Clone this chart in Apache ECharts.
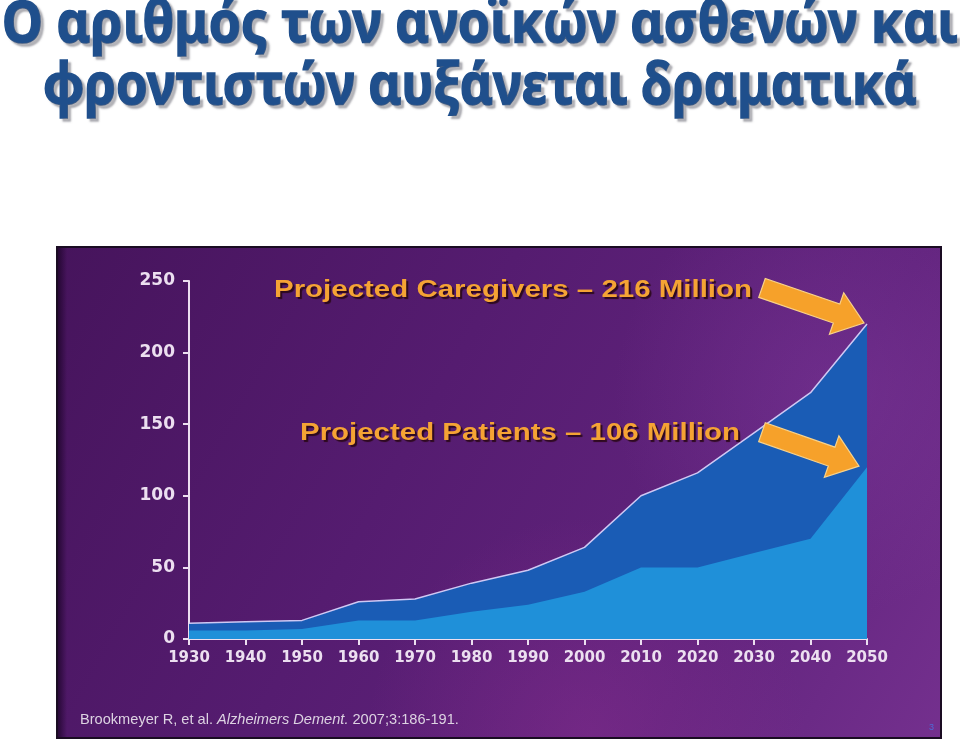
<!DOCTYPE html>
<html>
<head>
<meta charset="utf-8">
<script src="https://cdn.jsdelivr.net/npm/echarts@6/dist/echarts.min.js"></script>
<style>
html,body{margin:0;padding:0;background:#fff;}
#c{width:960px;height:743px;}
</style>
</head>
<body>
<div id="c"></div>
<script>
// ---- data ----
const years = [1930, 1940, 1950, 1960, 1970, 1980, 1990, 2000, 2010, 2020, 2030, 2040, 2050];
const caregiversTotal = [11, 12, 13, 26, 28, 39, 48, 64, 100, 116, 144, 172, 220];
const patients = [6, 6, 7, 13, 13, 19, 24, 33, 50, 50, 60, 70, 120];
const yTicks = [0, 50, 100, 150, 200, 250];
const titleLines = ['Ο αριθμός των ανοϊκών ασθενών και', 'φροντιστών αυξάνεται δραματικά'];
const labelCaregivers = 'Projected Caregivers – 216 Million';
const labelPatients = 'Projected Patients – 106 Million';

const chart = echarts.init(document.getElementById('c'));

const measureCtx = document.createElement('canvas').getContext('2d');
function textWidth(str, font) { measureCtx.font = font; return measureCtx.measureText(str).width; }

const titleFont = 'bold 57px "Noto Sans"';
const titleScale1 = 956 / textWidth(titleLines[0], titleFont);
const titleScale2 = 874 / textWidth(titleLines[1], titleFont);
const annFont = 'bold 24px "Liberation Sans"';
const annScale1 = 478 / textWidth(labelCaregivers, annFont);
const annScale2 = 440 / textWidth(labelPatients, annFont);

function titleText(str, y, s) {
  return {
    type: 'text', x: 480, y: y, scaleX: s, z: 100,
    style: {
      text: str, x: 0, y: 0, align: 'center', verticalAlign: 'middle',
      font: titleFont, fill: '#1f4f8c', stroke: '#1f4f8c', lineWidth: 1.6,
      textShadowColor: 'rgba(110,110,120,0.5)', textShadowOffsetX: 3, textShadowOffsetY: 3, textShadowBlur: 2
    }
  };
}
function annText(str, x, y, s) {
  return {
    type: 'text', x: x, y: y, scaleX: s, z: 50,
    style: {
      text: str, x: 0, y: 0, align: 'left', verticalAlign: 'middle',
      font: annFont, fill: '#f5a334',
      textShadowColor: 'rgba(40,5,20,0.9)', textShadowOffsetX: 2, textShadowOffsetY: 2, textShadowBlur: 1
    }
  };
}

const baseGraphics = [
  { type: 'rect', z: -10, shape: { x: 57, y: 247, width: 884, height: 491 },
    style: { fill: new echarts.graphic.LinearGradient(0, 0, 1, 1, [
      { offset: 0, color: '#46145c' }, { offset: 0.4, color: '#551c70' },
      { offset: 0.75, color: '#62247e' }, { offset: 1, color: '#74308e' }]), stroke: '#1a0c22', lineWidth: 2 } },
  { type: 'rect', z: -9, shape: { x: 58, y: 248, width: 882, height: 489 },
    style: { fill: new echarts.graphic.RadialGradient(0.88, 0.3, 0.45, [
      { offset: 0, color: 'rgba(130,60,160,0.4)' }, { offset: 1, color: 'rgba(130,60,160,0)' }]) } },
  { type: 'rect', z: -9, shape: { x: 58, y: 248, width: 882, height: 489 },
    style: { fill: new echarts.graphic.RadialGradient(0.6, 1.0, 0.45, [
      { offset: 0, color: 'rgba(150,50,150,0.35)' }, { offset: 1, color: 'rgba(150,50,150,0)' }]) } },
  { type: 'rect', z: -8, shape: { x: 58, y: 248, width: 9, height: 489 },
    style: { fill: new echarts.graphic.LinearGradient(0, 0, 1, 0, [
      { offset: 0, color: 'rgba(20,0,30,0.65)' }, { offset: 1, color: 'rgba(20,0,30,0)' }]) } },
  titleText(titleLines[0], 26, titleScale1),
  titleText(titleLines[1], 88, titleScale2),
  annText(labelCaregivers, 274, 290, annScale1),
  annText(labelPatients, 300, 433, annScale2),
  { type: 'text', x: 80, y: 720, z: 50,
    style: {
      text: '{n|Brookmeyer R, et al. }{i|Alzheimers Dement.}{n| 2007;3:186-191.}',
      verticalAlign: 'middle',
      rich: {
        n: { font: '14.6px "Liberation Sans"', fill: '#ddd3e2' },
        i: { font: 'italic 14.6px "Liberation Sans"', fill: '#ddd3e2' }
      }
    } },
  { type: 'text', x: 929, y: 728, z: 50,
    style: { text: '3', font: '9px "Liberation Sans"', fill: '#4f6bd6', verticalAlign: 'middle' } }
];

const axisColor = '#ecdff0';
chart.setOption({
  animation: false,
  backgroundColor: '#ffffff',
  grid: { left: 189, right: 93, top: 281, bottom: 104 },
  xAxis: {
    type: 'value', min: 1930, max: 2050, interval: 10,
    axisLine: { lineStyle: { color: axisColor, width: 2 } },
    axisTick: { show: true, length: 6, lineStyle: { color: axisColor, width: 2 } },
    axisLabel: { color: axisColor, fontFamily: 'DejaVu Sans', fontWeight: 'bold', fontSize: 15, margin: 12,
      formatter: v => String(v) },
    splitLine: { show: false }
  },
  yAxis: {
    type: 'value', min: 0, max: 250, interval: 50,
    axisLine: { show: true, lineStyle: { color: axisColor, width: 2 } },
    axisTick: { show: true, length: 6, lineStyle: { color: axisColor, width: 2 } },
    axisLabel: { color: axisColor, fontFamily: 'DejaVu Sans', fontWeight: 'bold', fontSize: 17, margin: 14,
      formatter: v => (yTicks.indexOf(v) >= 0 ? String(v) : '') },
    splitLine: { show: false }
  },
  series: [
    { name: 'Caregivers', type: 'line', z: 2,
      data: years.map((y, i) => [y, caregiversTotal[i]]),
      symbol: 'none', lineStyle: { color: '#cfc8f4', width: 1.5 },
      areaStyle: { color: '#1a5cb5', opacity: 1 } },
    { name: 'Patients', type: 'line', z: 3,
      data: years.map((y, i) => [y, patients[i]]),
      symbol: 'none', lineStyle: { width: 0, color: '#1f90d9' },
      areaStyle: { color: '#1f90d9', opacity: 1 } }
  ],
  graphic: baseGraphics
});

function arrowShape(tip, tail, shaftHalf, headHalf, headLen) {
  const dx = tip[0] - tail[0], dy = tip[1] - tail[1];
  const L = Math.sqrt(dx * dx + dy * dy);
  const ux = dx / L, uy = dy / L, nx = -uy, ny = ux;
  const neck = [tip[0] - ux * headLen, tip[1] - uy * headLen];
  return [
    [tail[0] + nx * shaftHalf, tail[1] + ny * shaftHalf],
    [neck[0] + nx * shaftHalf, neck[1] + ny * shaftHalf],
    [neck[0] + nx * headHalf, neck[1] + ny * headHalf],
    tip,
    [neck[0] - nx * headHalf, neck[1] - ny * headHalf],
    [neck[0] - nx * shaftHalf, neck[1] - ny * shaftHalf],
    [tail[0] - nx * shaftHalf, tail[1] - ny * shaftHalf]
  ];
}
const last = years.length - 1;
const tipC = chart.convertToPixel({ gridIndex: 0 }, [years[last], caregiversTotal[last]]);
const tipP = chart.convertToPixel({ gridIndex: 0 }, [years[last], patients[last]]);
const tip1 = [tipC[0] - 3, tipC[1] - 1];
const tip2 = [tipP[0] - 8, tipP[1] - 1];
const arrows = [
  { type: 'polygon', z: 60, shape: { points: arrowShape(tip1, [tip1[0] - 102, tip1[1] - 35], 10, 22, 29) },
    style: { fill: '#f6a12a', stroke: '#f8d28a', lineWidth: 1.2 } },
  { type: 'polygon', z: 60, shape: { points: arrowShape(tip2, [tip2[0] - 97, tip2[1] - 34], 10, 22, 29) },
    style: { fill: '#f6a12a', stroke: '#f8d28a', lineWidth: 1.2 } }
];
chart.setOption({ graphic: baseGraphics.concat(arrows) }, { replaceMerge: ['graphic'] });
</script>
</body>
</html>
